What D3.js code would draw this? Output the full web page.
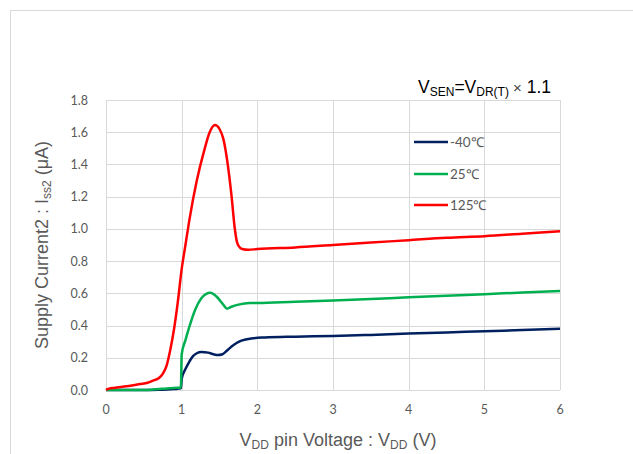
<!DOCTYPE html>
<html>
<head>
<meta charset="utf-8">
<script src="https://cdn.jsdelivr.net/npm/d3@7"></script>
<style>
  body { margin: 0; background: #fff; }
  svg { display: block; }
</style>
</head>
<body>
<div id="chart"></div>
<script>
// supply current vs VDD, three temperatures
const xTicks = [0, 1, 2, 3, 4, 5, 6];
const yTicks = [0, 0.2, 0.4, 0.6, 0.8, 1.0, 1.2, 1.4, 1.6, 1.8];

const vddM40 = [0, 0.6, 0.7, 0.8, 0.9, 0.99, 1.0, 1.05, 1.1, 1.15, 1.2, 1.26, 1.35, 1.42, 1.48, 1.53, 1.6, 1.66, 1.72, 1.79, 1.92, 2.1, 2.5, 3, 3.5, 4, 4.5, 5, 5.5, 6];
const issM40 = [0, 0, 0.001, 0.003, 0.006, 0.01, 0.07, 0.13, 0.175, 0.21, 0.228, 0.236, 0.232, 0.222, 0.217, 0.22, 0.245, 0.27, 0.29, 0.306, 0.32, 0.326, 0.331, 0.335, 0.342, 0.35, 0.357, 0.365, 0.372, 0.38];

const vdd25 = [0, 0.5, 0.6, 0.7, 0.8, 0.9, 0.99, 1.0, 1.05, 1.1, 1.18, 1.26, 1.32, 1.38, 1.46, 1.55, 1.6, 1.65, 1.75, 1.9, 2.0, 2.5, 3, 3.5, 4, 4.5, 5, 5.5, 6];
const iss25 = [0, 0, 0.002, 0.006, 0.01, 0.013, 0.015, 0.22, 0.31, 0.39, 0.5, 0.57, 0.595, 0.603, 0.58, 0.53, 0.505, 0.515, 0.53, 0.54, 0.54, 0.548, 0.555, 0.565, 0.575, 0.585, 0.595, 0.605, 0.615];

const vdd125 = [0, 0.05, 0.1, 0.22, 0.3, 0.45, 0.55, 0.62, 0.7, 0.75, 0.8, 0.85, 0.9, 0.95, 1.0, 1.05, 1.1, 1.2, 1.3, 1.37, 1.44, 1.5, 1.55, 1.6, 1.66, 1.7, 1.73, 1.76, 1.8, 1.88, 2.0, 2.5, 3.0, 3.5, 4.0, 4.5, 5.0, 5.5, 6.0];
const iss125 = [0, 0.01, 0.013, 0.02, 0.025, 0.037, 0.045, 0.058, 0.075, 0.1, 0.15, 0.25, 0.38, 0.55, 0.75, 0.9, 1.05, 1.3, 1.49, 1.6, 1.645, 1.62, 1.56, 1.43, 1.2, 1.01, 0.92, 0.89, 0.875, 0.87, 0.875, 0.885, 0.9, 0.915, 0.93, 0.945, 0.955, 0.97, 0.985];

const seriesNames = ["-40\u2103", "25\u2103", "125\u2103"];
const seriesColors = ["#002060", "#00b050", "#ff0000"];

const W = 633, H = 454;
const pLeft = 106, pRight = 560, pTop = 100, pBottom = 390;

const svg = d3.select("#chart").append("svg")
    .attr("width", W).attr("height", H);

// outer chart border
svg.append("rect")
    .attr("x", 10.5).attr("y", 10.5)
    .attr("width", W).attr("height", H)
    .attr("fill", "none").attr("stroke", "#d9d9d9");

const x = d3.scaleLinear().domain([0, 6]).range([pLeft, pRight]);
const y = d3.scaleLinear().domain([0, 1.8]).range([pBottom, pTop]);

// grid
svg.append("g").selectAll("line").data(xTicks).enter().append("line")
    .attr("x1", d => Math.round(x(d)) + 0.5).attr("x2", d => Math.round(x(d)) + 0.5)
    .attr("y1", pTop).attr("y2", pBottom)
    .attr("stroke", "#d9d9d9");
svg.append("g").selectAll("line").data(yTicks).enter().append("line")
    .attr("y1", d => Math.round(y(d)) + 0.5).attr("y2", d => Math.round(y(d)) + 0.5)
    .attr("x1", pLeft).attr("x2", pRight)
    .attr("stroke", "#d9d9d9");

// tick labels
svg.append("g").selectAll("text").data(yTicks).enter().append("text")
    .attr("x", 88).attr("y", d => y(d) + 4.5)
    .attr("text-anchor", "end")
    .attr("font-family", "Lato, 'Liberation Sans', sans-serif")
    .attr("font-size", 12.5).attr("fill", "#595959")
    .text(d => d.toFixed(1));
svg.append("g").selectAll("text").data(xTicks).enter().append("text")
    .attr("x", d => x(d)).attr("y", 414)
    .attr("text-anchor", "middle")
    .attr("font-family", "Lato, 'Liberation Sans', sans-serif")
    .attr("font-size", 12.5).attr("fill", "#595959")
    .text(d => d);

// curves
const line = d3.line()
    .x(d => x(d[0])).y(d => y(d[1]))
    .curve(d3.curveMonotoneX);
const allV = [vddM40, vdd25, vdd125];
const allI = [issM40, iss25, iss125];
allV.forEach((vs, k) => {
  svg.append("path")
      .datum(vs.map((v, i) => [v, allI[k][i]]))
      .attr("d", line)
      .attr("fill", "none")
      .attr("stroke", seriesColors[k])
      .attr("stroke-width", 2.5)
      .attr("stroke-linejoin", "round");
});

// legend
const legY = [142, 174, 205];
seriesNames.forEach((n, k) => {
  svg.append("line")
      .attr("x1", 414).attr("x2", 448)
      .attr("y1", legY[k]).attr("y2", legY[k])
      .attr("stroke", seriesColors[k]).attr("stroke-width", 2.5);
  svg.append("text")
      .attr("x", 450).attr("y", legY[k] + 5)
      .attr("font-family", "Lato, 'Liberation Sans', sans-serif")
      .attr("font-size", 13.5).attr("fill", "#595959")
      .text(n);
});

// condition label
const cond = svg.append("text")
    .attr("x", 418).attr("y", 93)
    .attr("font-family", "'Liberation Sans', Arial, sans-serif")
    .attr("font-size", 17.5).attr("fill", "#000");
cond.append("tspan").text("V");
cond.append("tspan").attr("font-size", 12).attr("dy", 3).text("SEN");
cond.append("tspan").attr("dy", -3).text("=V");
cond.append("tspan").attr("font-size", 12).attr("dy", 3).text("DR(T)");
cond.append("tspan").attr("dy", -3).attr("font-size", 15).attr("fill", "#444").text(" \u00d7");
cond.append("tspan").text(" 1.1");

// x axis title
const xt = svg.append("text")
    .attr("x", (pLeft + pRight) / 2 + 5).attr("y", 446)
    .attr("text-anchor", "middle")
    .attr("font-family", "'Liberation Sans', Arial, sans-serif")
    .attr("font-size", 18).attr("fill", "#595959");
xt.append("tspan").text("V");
xt.append("tspan").attr("font-size", 12).attr("dy", 3).text("DD");
xt.append("tspan").attr("dy", -3).text(" pin Voltage : V");
xt.append("tspan").attr("font-size", 12).attr("dy", 3).text("DD");
xt.append("tspan").attr("dy", -3).text(" (V)");

// y axis title
const yt = svg.append("text")
    .attr("transform", "translate(48," + ((pTop + pBottom) / 2) + ") rotate(-90)")
    .attr("text-anchor", "middle")
    .attr("font-family", "'Liberation Sans', Arial, sans-serif")
    .attr("font-size", 18).attr("fill", "#595959");
yt.append("tspan").text("Supply Current2 : I");
yt.append("tspan").attr("font-size", 12).attr("dy", 3).text("ss2");
yt.append("tspan").attr("dy", -3).text(" (\u03bcA)");
</script>
</body>
</html>
